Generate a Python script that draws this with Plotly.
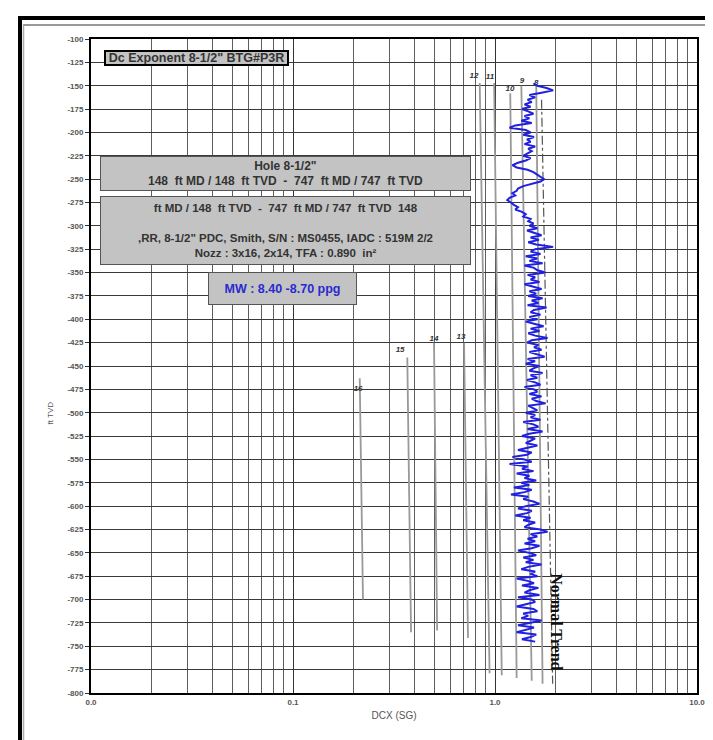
import math
import plotly.graph_objects as go

# ---------------- data ----------------
blue_depth = [
    -147.5, -150, -152.5, -155, -157.5, -160, -162.5, -165, -167.5, -170,
    -172.5, -175, -177.5, -180, -182.5, -185, -187.5, -190, -192.5, -195,
    -197.5, -200, -202.5, -205, -207.5, -210, -212.5, -215, -217.5, -220,
    -222.5, -225, -227.5, -230, -232.5, -235, -237.5, -240, -242.5, -245,
    -247.5, -250, -252.5, -255, -257.5, -260, -262.5, -265, -267.5, -270,
    -272.5, -275, -277.5, -280, -282.5, -285, -287.5, -290, -292.5, -295,
    -297.5, -300, -302.5, -305, -307.5, -310, -312.5, -315, -317.5, -320,
    -322.5, -325, -327.5, -330, -332.5, -335, -337.5, -340, -342.5, -345,
    -347.5, -350, -352.5, -355, -357.5, -360, -362.5, -365, -367.5, -370,
    -372.5, -375, -377.5, -380, -382.5, -385, -387.5, -390, -392.5, -395,
    -397.5, -400, -402.5, -405, -407.5, -410, -412.5, -415, -417.5, -420,
    -422.5, -425, -427.5, -430, -432.5, -435, -437.5, -440, -442.5, -445,
    -447.5, -450, -452.5, -455, -457.5, -460, -462.5, -465, -467.5, -470,
    -472.5, -475, -477.5, -480, -482.5, -485, -487.5, -490, -492.5, -495,
    -497.5, -500, -502.5, -505, -507.5, -510, -512.5, -515, -517.5, -520,
    -522.5, -525, -527.5, -530, -532.5, -535, -537.5, -540, -542.5, -545,
    -547.5, -550, -552.5, -555, -557.5, -560, -562.5, -565, -567.5, -570,
    -572.5, -575, -577.5, -580, -582.5, -585, -587.5, -590, -592.5, -595,
    -597.5, -600, -602.5, -605, -607.5, -610, -612.5, -615, -617.5, -620,
    -622.5, -625, -627.5, -630, -632.5, -635, -637.5, -640, -642.5, -645,
    -647.5, -650, -652.5, -655, -657.5, -660, -662.5, -665, -667.5, -670,
    -672.5, -675, -677.5, -680, -682.5, -685, -687.5, -690, -692.5, -695,
    -697.5, -700, -702.5, -705, -707.5, -710, -712.5, -715, -717.5, -720,
    -722.5, -725, -727.5, -730, -732.5, -735, -737.5, -740, -742.5, -745,
]
blue_dcx = [
    1.55, 1.62, 1.80, 1.94, 1.70, 1.48, 1.58, 1.45, 1.52, 1.40,
    1.50, 1.36, 1.46, 1.55, 1.40, 1.48, 1.35, 1.52, 1.26, 1.18,
    1.42, 1.50, 1.38, 1.56, 1.44, 1.50, 1.40, 1.58, 1.46, 1.52,
    1.45, 1.38, 1.50, 1.42, 1.30, 1.22, 1.28, 1.45, 1.55, 1.62,
    1.70, 1.75, 1.68, 1.52, 1.38, 1.30, 1.28, 1.22, 1.26, 1.18,
    1.15, 1.20, 1.24, 1.30, 1.26, 1.36, 1.42, 1.38, 1.50, 1.46,
    1.55, 1.48, 1.62, 1.44, 1.58, 1.70, 1.50, 1.65, 1.46, 1.60,
    1.94, 1.58, 1.50, 1.68, 1.42, 1.62, 1.48, 1.72, 1.40, 1.56,
    1.62, 1.78, 1.45, 1.58, 1.50, 1.66, 1.40, 1.55, 1.70, 1.48,
    1.60, 1.46, 1.72, 1.52, 1.64, 1.45, 1.80, 1.56, 1.50, 1.68,
    1.48, 1.62, 1.42, 1.58, 1.74, 1.50, 1.66, 1.46, 1.58, 1.82,
    1.52, 1.44, 1.64, 1.56, 1.70, 1.48, 1.60, 1.76, 1.45, 1.58,
    1.42, 1.66, 1.55, 1.48, 1.72, 1.50, 1.62, 1.44, 1.58, 1.68,
    1.40, 1.56, 1.62, 1.48, 1.70, 1.52, 1.60, 1.78, 1.46, 1.55,
    1.62, 1.42, 1.58, 1.50, 1.68, 1.38, 1.55, 1.64, 1.45, 1.72,
    1.48, 1.36, 1.58, 1.50, 1.42, 1.62, 1.46, 1.30, 1.52, 1.44,
    1.22, 1.40, 1.52, 1.18, 1.45, 1.36, 1.55, 1.28, 1.48, 1.40,
    1.60, 1.35, 1.48, 1.24, 1.52, 1.40, 1.20, 1.46, 1.38, 1.55,
    1.66, 1.42, 1.30, 1.52, 1.44, 1.26, 1.50, 1.38, 1.58, 1.46,
    1.40, 1.68, 1.82, 1.50, 1.62, 1.45, 1.58, 1.40, 1.66, 1.52,
    1.30, 1.48, 1.60, 1.38, 1.55, 1.42, 1.70, 1.46, 1.35, 1.58,
    1.50, 1.62, 1.28, 1.45, 1.56, 1.36, 1.64, 1.48, 1.40, 1.66,
    1.30, 1.52, 1.58, 1.42, 1.28, 1.55, 1.62, 1.38, 1.46, 1.35,
    1.70, 1.48, 1.30, 1.56, 1.42, 1.28, 1.60, 1.50, 1.36, 1.58,
]

trend_dcx = [1.70, 1.93]
trend_depth = [-165, -790]

overlay_labels = ["16", "15", "14", "13", "12", "11", "10", "9", "8"]
overlay_x_top = [0.214, 0.368, 0.499, 0.703, 0.84, 0.99, 1.19, 1.35, 1.60]
overlay_x_bot = [0.222, 0.384, 0.517, 0.735, 0.94, 1.08, 1.28, 1.52, 1.72]
overlay_y_top = [-463, -441, -425, -425, -147, -147, -158, -150, -150]
overlay_y_bot = [-700, -735, -733, -741, -779, -781, -784, -787, -790]
overlay_label_x = [0.210, 0.339, 0.499, 0.679, 0.787, 0.944, 1.186, 1.36, 1.60]
overlay_label_y = [-475, -433, -421, -419, -140, -141, -154, -145, -147]

x_major = [0.01, 0.1, 1, 10]
x_major_text = ["0.0", "0.1", "1.0", "10.0"]
x_minor = [m * d for d in (0.01, 0.1, 1) for m in (2, 3, 4, 5, 6, 7, 8, 9)]
y_ticks = [-100 - 25 * i for i in range(29)]
y_tick_text = [str(v) for v in y_ticks]

# ---------------- figure ----------------
fig = go.Figure()

for i in range(len(overlay_labels)):
    fig.add_trace(go.Scatter(
        x=[overlay_x_top[i], overlay_x_bot[i]],
        y=[overlay_y_top[i], overlay_y_bot[i]],
        mode="lines", line=dict(color="#999999", width=1.8),
        hoverinfo="skip"))

fig.add_trace(go.Scatter(
    x=overlay_label_x, y=overlay_label_y, mode="text",
    text=["<b><i>" + t + "</i></b>" for t in overlay_labels],
    textfont=dict(size=8, color="#333333", family="Liberation Sans"),
    hoverinfo="skip"))

fig.add_trace(go.Scatter(
    x=trend_dcx, y=trend_depth, mode="lines",
    line=dict(color="#555555", width=1.2, dash="dashdot"),
    hoverinfo="skip"))

fig.add_trace(go.Scatter(
    x=blue_dcx, y=blue_depth, mode="lines",
    line=dict(color="#2020e0", width=2),
    hoverinfo="skip"))

# ---------------- layout ----------------
L, R, T, B = 83, 24, 31, 55
W, H = 713, 740
PW, PH = W - L - R, H - T - B


def px(x):
    return (x - L) / PW


def py(y):
    return (H - B - y) / PH


fig.update_layout(
    width=W, height=H, autosize=False,
    margin=dict(l=L, r=R, t=T, b=B),
    paper_bgcolor="white", plot_bgcolor="white",
    showlegend=False,
    font=dict(family="Liberation Sans", color="#444444"),
)

fig.update_xaxes(
    type="log", range=[-2, 1],
    tickvals=x_major, ticktext=x_major_text,
    tickfont=dict(size=8, color="#555555", weight="bold"),
    showgrid=True, gridcolor="#333333", gridwidth=1.3,
    minor=dict(tickvals=x_minor, showgrid=True, gridcolor="#5e5e5e",
               griddash="solid", gridwidth=1, ticks=""),
    showline=True, linecolor="black", linewidth=2, mirror=True,
    ticks="", zeroline=False,
    title=dict(text="DCX (SG)", font=dict(size=10, color="#555555"), standoff=6),
)

fig.update_yaxes(
    range=[-800, -100],
    tickvals=y_ticks, ticktext=y_tick_text,
    tickfont=dict(size=8, color="#555555", weight="bold"),
    showgrid=True, gridcolor="#3a3a3a", gridwidth=1,
    showline=True, linecolor="black", linewidth=2, mirror=True,
    ticks="outside", ticklen=4, tickcolor="#333333",
    zeroline=False,
)

shapes = [
    # outer frame
    dict(type="line", xref="paper", yref="paper", x0=px(12), x1=px(12),
         y0=py(10), y1=py(745), line=dict(color="black", width=4)),
    dict(type="line", xref="paper", yref="paper", x0=px(10), x1=px(720),
         y0=py(10), y1=py(10), line=dict(color="black", width=4)),
    dict(type="line", xref="paper", yref="paper", x0=px(15), x1=px(720),
         y0=py(17), y1=py(17), line=dict(color="#777777", width=1.5)),
    dict(type="line", xref="paper", yref="paper", x0=px(15.5), x1=px(15.5),
         y0=py(17), y1=py(745), line=dict(color="#aaaaaa", width=1.5)),
    dict(type="line", xref="paper", yref="paper", x0=px(15), x1=px(720),
         y0=py(737), y1=py(737), line=dict(color="#dddddd", width=1)),
]
fig.update_layout(shapes=shapes)


def box(x0, y0, x1, y1, text, color="#333333", size=12, border="#555555",
        bwidth=1, bg="#c3c3c3"):
    return dict(
        xref="paper", yref="paper", x=px((x0 + x1) / 2), y=py((y0 + y1) / 2),
        xanchor="center", yanchor="middle",
        width=x1 - x0 - 2 * bwidth, height=y1 - y0 - 2 * bwidth,
        text=text, showarrow=False, align="center", valign="middle",
        bgcolor=bg, bordercolor=border, borderwidth=bwidth, borderpad=0,
        font=dict(size=size, color=color, family="Liberation Sans", weight="bold"),
    )


annotations = [
    box(96, 42, 281, 58, 'Dc Exponent 8-1/2" BTG#P3R', color="#333333",
        size=12.5, border="black", bwidth=2),
    box(92, 148, 463, 183,
        'Hole 8-1/2"<br>148  ft MD / 148  ft TVD  -  747  ft MD / 747  ft TVD'),
    box(92, 188, 463, 257,
        'ft MD / 148  ft TVD  -  747  ft MD / 747  ft TVD  148<br> <br>'
        ',RR, 8-1/2" PDC, Smith, S/N : MS0455, IADC : 519M 2/2<br>'
        'Nozz : 3x16, 2x14, TFA : 0.890  in²', size=11.5),
    box(200, 264, 349, 297, 'MW : 8.40 -8.70 ppg', color="#2a2ad0", size=12.5),
    dict(xref="paper", yref="paper", x=px(35), y=py(405), text="ft TVD",
         showarrow=False, textangle=-90,
         font=dict(size=8, color="#555555", family="Liberation Sans")),
    dict(xref="x", yref="y", x=math.log10(2.0), y=-724, text="<b>Normal Trend</b>",
         showarrow=False, textangle=90,
         font=dict(size=16, color="#111111", family="Liberation Serif")),
]
fig.update_layout(annotations=annotations)

fig.write_html("out.html")
